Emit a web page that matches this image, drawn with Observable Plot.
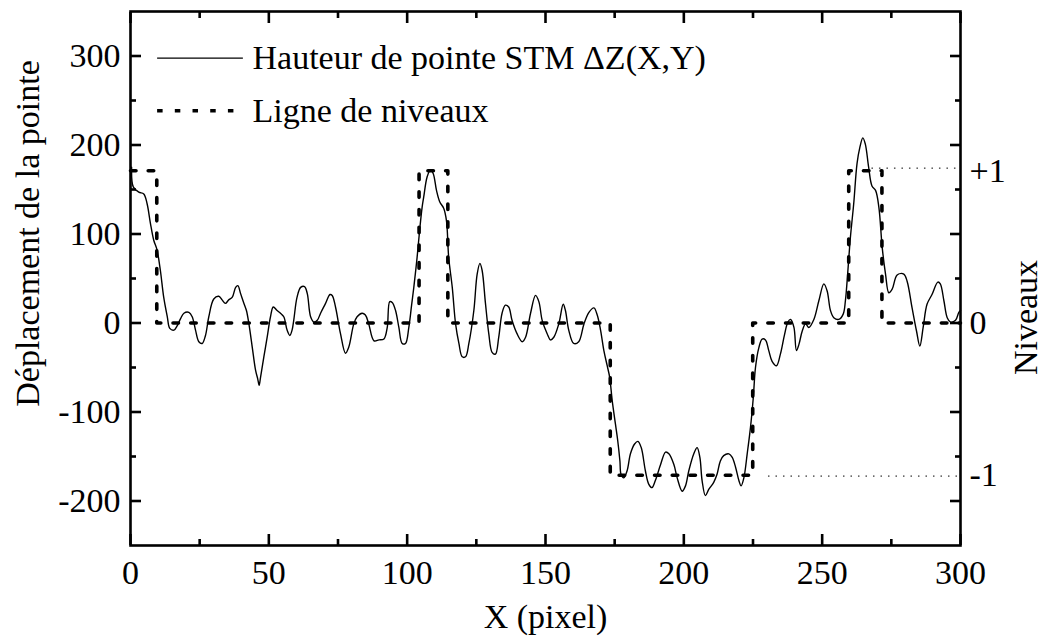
<!DOCTYPE html>
<html><head><meta charset="utf-8">
<script src="https://cdn.jsdelivr.net/npm/d3@7"></script>
<script src="https://cdn.jsdelivr.net/npm/@observablehq/plot@0.6"></script>
<style>
html,body{margin:0;padding:0;background:#fff;}
#chart{width:1044px;height:644px;}
</style></head><body><div id="chart"></div>
<script>
// STM tip height profile ΔZ(X,Y)
const pixelX = [
  0.4, 1.0, 3.0, 4.8, 6.0, 7.2, 8.4, 9.6, 10.8, 12.0,
  13.3, 14.2, 15.7, 16.9, 18.1, 19.3, 21.1, 22.3, 23.5, 24.7,
  25.9, 27.1, 28.3, 30.1, 31.9, 33.1, 34.3, 35.5, 36.8, 38.0,
  38.8, 39.8, 41.0, 41.9, 42.8, 44.0, 45.2, 46.0, 46.5, 47.0,
  48.2, 49.4, 50.6, 51.6, 53.0, 54.2, 55.4, 56.6, 57.6, 58.4,
  59.0, 60.2, 61.5, 62.9, 63.9, 65.1, 66.3, 67.5, 68.7, 70.5,
  72.1, 72.9, 74.1, 75.9, 77.7, 78.9, 80.7, 81.9, 83.7, 84.9,
  86.1, 88.0, 89.8, 91.6, 92.8, 93.7, 94.6, 95.8, 97.0, 98.2,
  99.4, 100.6, 101.6, 102.4, 103.6, 104.5, 105.4, 106.0, 107.2, 108.4,
  109.4, 110.6, 111.8, 113.2, 114.2, 115.0, 116.3, 117.5, 118.7, 119.9,
  121.1, 122.3, 124.1, 125.3, 126.3, 127.1, 128.3, 129.5, 130.7, 131.9,
  133.1, 134.3, 135.5, 136.7, 137.9, 139.7, 141.6, 142.8, 144.6, 146.4,
  147.6, 148.8, 150.6, 151.8, 153.0, 154.8, 156.4, 157.2, 158.4, 160.2,
  162.0, 163.9, 165.7, 167.5, 168.7, 169.9, 171.1, 172.3, 173.2, 174.1,
  175.3, 176.1, 176.9, 177.3, 178.3, 179.5, 180.7, 182.2, 183.4, 184.6,
  186.1, 187.3, 188.5, 189.7, 191.6, 193.4, 194.6, 196.4, 197.6, 199.4,
  200.6, 201.8, 203.6, 204.8, 205.8, 206.6, 207.8, 209.0, 210.8, 212.0,
  213.2, 214.4, 216.3, 217.5, 218.7, 219.9, 220.7, 221.7, 222.9, 224.1,
  225.1, 225.9, 227.1, 228.3, 229.5, 230.7, 231.9, 233.5, 234.9, 236.4,
  237.6, 238.6, 239.8, 240.7, 241.6, 242.8, 244.0, 245.2, 247.0, 248.8,
  250.6, 251.8, 253.0, 254.2, 256.0, 257.6, 258.4, 259.3, 260.2, 261.4,
  262.6, 263.6, 264.7, 265.6, 266.8, 268.0, 269.3, 270.5, 271.7, 272.9,
  274.1, 275.3, 277.1, 279.5, 280.7, 282.5, 284.1, 285.3, 286.5, 287.9,
  289.7, 291.8, 292.7, 294.0, 295.2, 296.4, 298.2, 299.4, 300
];
const deltaZ = [
  175, 153, 147, 145, 134, 112, 93, 82, 59, 29,
  7, -6, -8, -3, 5, 11, 12, 7, -8, -21,
  -23, -14, 7, 27, 30, 26, 22, 26, 29, 40,
  42, 33, 22, 14, -1, -27, -53, -63, -70, -61,
  -38, -16, 7, 18, 14, 11, 7, -8, -14, -8,
  3, 29, 40, 41, 33, 7, 1, 3, 11, 22,
  32, 31, 18, -12, -34, -27, -1, 7, 11, 9,
  -1, -20, -19, -18, -5, 24, 23, 14, -5, -23,
  -23, -5, 20, 40, 74, 104, 130, 142, 164, 172,
  168, 149, 136, 129, 115, 74, 40, -1, -23, -38,
  -38, -23, 14, 55, 67, 59, 22, -12, -33, -35,
  -16, 11, 20, 18, 3, -12, -21, -16, 11, 31,
  24, 3, -12, -19, -16, -1, 21, 14, -8, -23,
  -21, -1, 12, 17, 9, -8, -31, -48, -61, -87,
  -114, -132, -155, -170, -174, -166, -147, -136, -133, -140,
  -166, -181, -185, -177, -159, -145, -147, -159, -174, -189,
  -183, -166, -147, -140, -151, -177, -194, -187, -179, -170,
  -155, -149, -147, -151, -162, -177, -183, -174, -147, -117,
  -84, -50, -28, -18, -19, -31, -43, -48, -35, -13,
  1, 4, -5, -31, -24, -9, -1, -5, 4, 25,
  44, 36, 14, 6, 4, 10, 25, 59, 96, 134,
  179, 197, 208, 201, 175, 154, 149, 130, 85, 55,
  34, 38, 54, 55, 47, 17, -9, -26, -5, 21,
  32, 46, 44, 25, 6, 1, 3, 12, 14
];

// Level line (Ligne de niveaux): step starts and level index
const levelStartX = [0, 9.5, 104.3, 114.7, 173.4, 224.9, 259.6, 271.6, 300];
const levelIndex  = [1, 0, 1, 0, -1, 0, 1, 0, 0];
const levelUnit = 171; // ΔZ corresponding to one level

// thin dotted guides toward the right axis level labels
const guideStartX = [268.0, 230.6];
const guideZ = [174, -172];

// ticks
const xMajor = [0, 50, 100, 150, 200, 250, 300];
const xMinor = [25, 75, 125, 175, 225, 275];
const yMajor = [-200, -100, 0, 100, 200, 300];
const yMinor = [-150, -50, 50, 150, 250];
const levelTickValues = [1, 0, -1];
const levelTickLabels = ["+1", "0", "-1"];

// texts
const xTitle = "X (pixel)";
const yTitle = "Déplacement de la pointe";
const rightTitle = "Niveaux";
const legendLabels = ["Hauteur de pointe STM ΔZ(X,Y)", "Ligne de niveaux"];
const legendZ = [297.6, 238.4];
const legendX = [9.8, 40.8, 44.1];

const profile = pixelX.map((x, i) => ({x, z: deltaZ[i]}));
const levels = levelStartX.map((x, i) => ({x, z: levelIndex[i] * levelUnit}));
const guides = guideStartX.map((x, i) => ({x, z: guideZ[i]}));
const levelLabelMap = new Map(levelTickValues.map((v, i) => [v * levelUnit, levelTickLabels[i]]));

const DASH = "5.5,12.2";
const SW = 2.6;

const chart = Plot.plot({
  width: 1044, height: 644,
  marginLeft: 130, marginRight: 84, marginTop: 11, marginBottom: 99,
  x: {domain: [0, 300]},
  y: {domain: [-250, 350]},
  style: {fontFamily: "'Liberation Serif', 'Times New Roman', serif", fontSize: "34px", color: "black", background: "white", overflow: "visible"},
  marks: [
    Plot.line(profile, {x: "x", y: "z", curve: "catmull-rom", stroke: "black", strokeWidth: 1.4}),
    Plot.line(levels, {x: "x", y: "z", curve: "step-after", stroke: "black", strokeWidth: 3.6, strokeDasharray: DASH}),
    Plot.ruleY(guides, {y: "z", x1: "x", x2: 300, stroke: "black", strokeWidth: 1, strokeDasharray: "1.5,6"}),
    Plot.frame({stroke: "black", strokeWidth: SW}),
    // inward tick marks
    Plot.axisY({anchor: "left", ticks: yMajor, tickSize: 11, dx: 11, fill: "none", strokeWidth: SW}),
    Plot.axisY({anchor: "left", ticks: yMinor, tickSize: 6, dx: 6, fill: "none", strokeWidth: SW}),
    Plot.axisY({anchor: "right", ticks: yMajor, tickSize: 11, dx: -11, fill: "none", strokeWidth: SW}),
    Plot.axisY({anchor: "right", ticks: yMinor, tickSize: 6, dx: -6, fill: "none", strokeWidth: SW}),
    Plot.axisX({anchor: "bottom", ticks: xMajor, tickSize: 11, dy: -11, fill: "none", strokeWidth: SW}),
    Plot.axisX({anchor: "bottom", ticks: xMinor, tickSize: 6, dy: -6, fill: "none", strokeWidth: SW}),
    Plot.axisX({anchor: "top", ticks: xMajor, tickSize: 11, dy: 11, fill: "none", strokeWidth: SW}),
    Plot.axisX({anchor: "top", ticks: xMinor, tickSize: 6, dy: 6, fill: "none", strokeWidth: SW}),
    // tick labels
    Plot.axisY({anchor: "left", ticks: yMajor, tickSize: 0, tickPadding: 10, tickFormat: d => String(d), label: null}),
    Plot.axisX({anchor: "bottom", ticks: xMajor, tickSize: 0, tickPadding: 14, tickFormat: d => String(d), label: null}),
    Plot.axisY({anchor: "right", ticks: levelTickValues.map(v => v * levelUnit), tickSize: 0, tickPadding: 9, tickFormat: d => levelLabelMap.get(d), label: null}),
    // titles
    Plot.text([xTitle], {text: d => d, frameAnchor: "bottom", textAnchor: "middle", lineAnchor: "middle", dy: 72}),
    Plot.text([yTitle], {text: d => d, frameAnchor: "left", textAnchor: "middle", lineAnchor: "middle", rotate: -90, dx: -102, dy: -45}),
    Plot.text([rightTitle], {text: d => d, frameAnchor: "right", textAnchor: "middle", lineAnchor: "middle", rotate: -90, dx: 66, dy: 39}),
    // legend
    Plot.ruleY([legendZ[0]], {y: d => d, x1: legendX[0], x2: legendX[1], stroke: "black", strokeWidth: 1.4}),
    Plot.ruleY([legendZ[1]], {y: d => d, x1: legendX[0], x2: legendX[1], stroke: "black", strokeWidth: 3.6, strokeDasharray: DASH}),
    Plot.text(legendLabels, {text: d => d, x: legendX[2], y: (d, i) => legendZ[i], textAnchor: "start", lineAnchor: "middle"})
  ]
});
document.getElementById("chart").appendChild(chart);
</script>
</body></html>
